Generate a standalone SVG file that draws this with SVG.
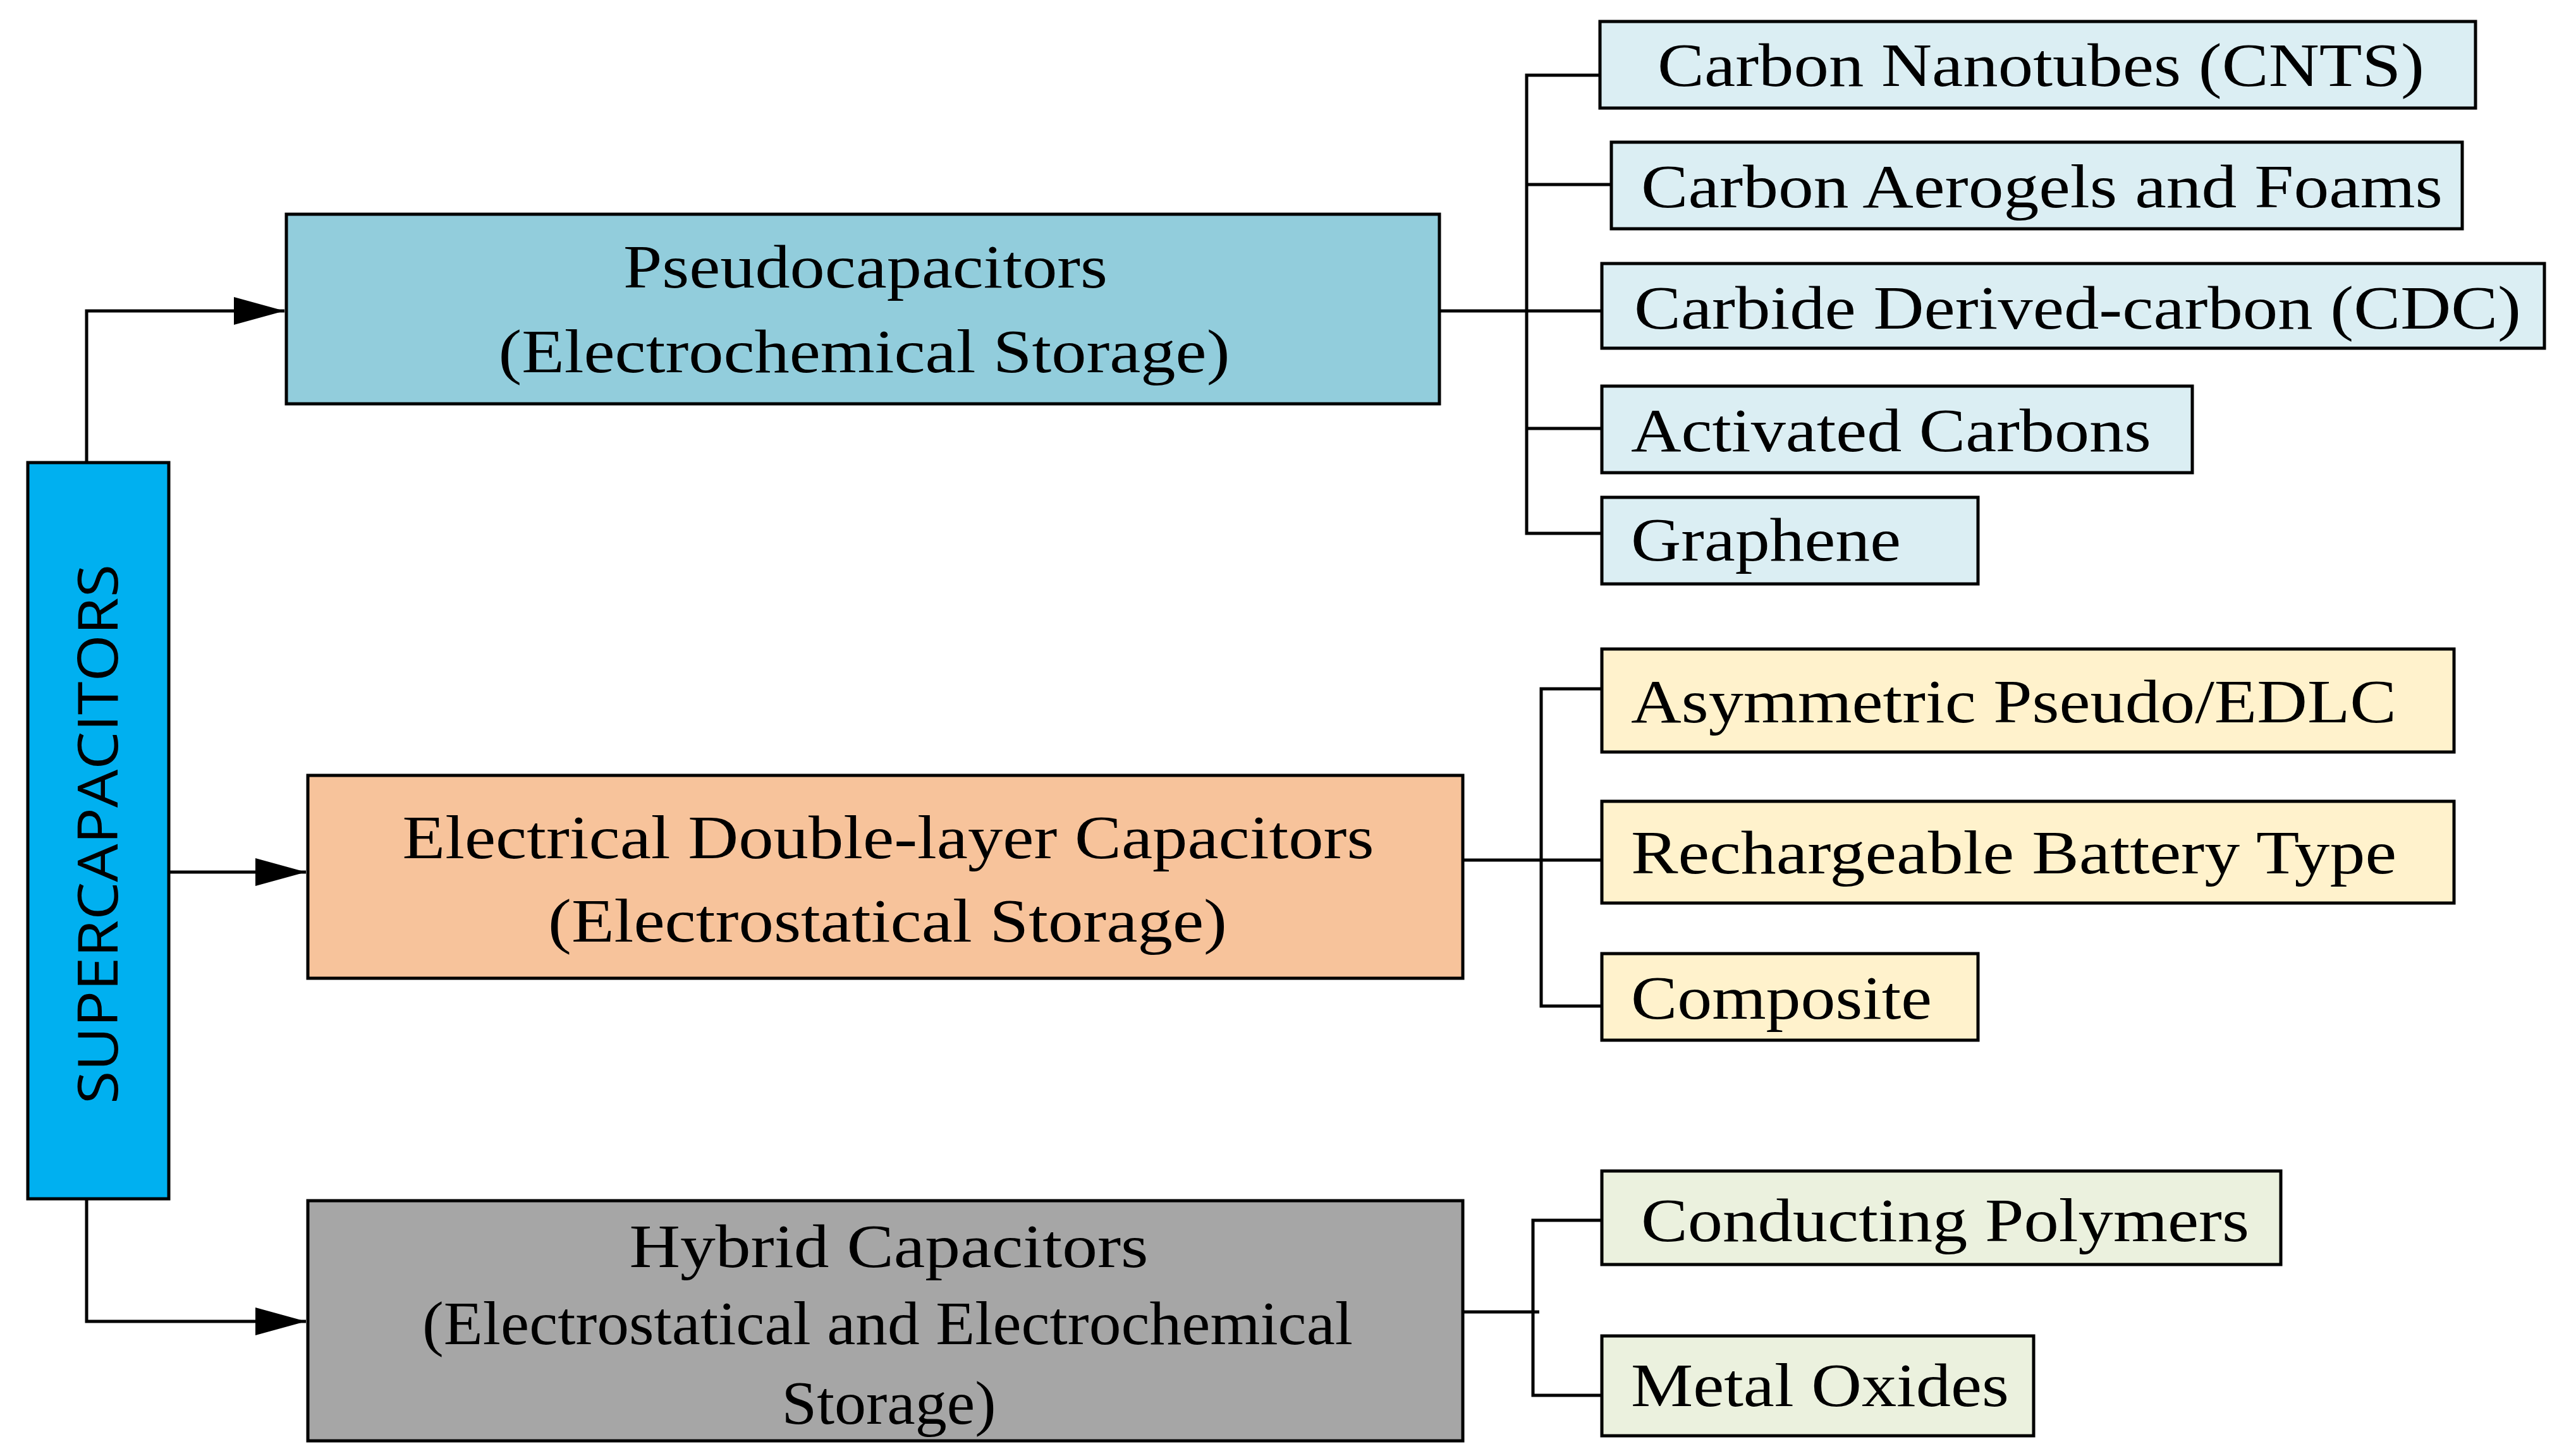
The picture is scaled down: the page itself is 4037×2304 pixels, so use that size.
<svg xmlns="http://www.w3.org/2000/svg" width="4037" height="2304" viewBox="0 0 4037 2304">
<defs>
<style>
rect{stroke:#000;stroke-width:5}
.t{font-family:"Liberation Serif",serif;font-size:98px;fill:#000}
.m{text-anchor:middle}
.c line,.c polyline{stroke:#000;stroke-width:5;fill:none}
</style>
<marker id="a" viewBox="0 0 10 10" refX="10" refY="5" markerWidth="10" markerHeight="10" markerUnits="userSpaceOnUse" orient="auto"><path d="M0,0L10,5L0,10z"/></marker>
</defs>
<rect width="4037" height="2304" fill="#fff" style="stroke:none"/>
<g class="c">
<polyline points="137,732 137,492 450,492" marker-end="url(#arr)"/>
<line x1="267" y1="1380" x2="484" y2="1380"/>
<polyline points="137,1897 137,2091 484,2091"/>
<line x1="2277" y1="492" x2="2534" y2="492"/>
<polyline points="2534,119 2415,119 2415,844 2534,844"/>
<line x1="2415" y1="292" x2="2549" y2="292"/>
<line x1="2415" y1="678" x2="2534" y2="678"/>
<line x1="2314" y1="1361" x2="2534" y2="1361"/>
<polyline points="2534,1090 2438,1090 2438,1592 2534,1592"/>
<line x1="2314" y1="2076" x2="2435" y2="2076"/>
<polyline points="2534,1931 2425,1931 2425,2208 2534,2208"/>
<path d="M370,470L450,492L370,514z M404,1358L484,1380L404,1402z M404,2069L484,2091L404,2113z" fill="#000" stroke="none"/>
</g>
<g id="super"><rect x="44" y="732" width="223" height="1165" fill="#00B0F0"/>
<text transform="translate(186,1320) rotate(-90)" class="m" style="font-family:'Open Sans',sans-serif;font-size:88px" textLength="854" lengthAdjust="spacingAndGlyphs">SUPERCAPACITORS</text></g>
<g id="pseudo"><rect x="453" y="339" width="1824" height="300" fill="#92CDDC"/>
<text class="t m" x="1369" y="455" textLength="766" lengthAdjust="spacingAndGlyphs">Pseudocapacitors</text>
<text class="t m" x="1367" y="589" textLength="1157" lengthAdjust="spacingAndGlyphs">(Electrochemical Storage)</text></g>
<g id="edlc"><rect x="487" y="1227" width="1827" height="321" fill="#F7C39B"/>
<text class="t m" x="1405" y="1358" textLength="1537" lengthAdjust="spacingAndGlyphs">Electrical Double-layer Capacitors</text>
<text class="t m" x="1404" y="1490" textLength="1074" lengthAdjust="spacingAndGlyphs">(Electrostatical Storage)</text></g>
<g id="hybrid"><rect x="487" y="1900" width="1827" height="380" fill="#A6A6A6"/>
<text class="t m" x="1406" y="2005" textLength="821" lengthAdjust="spacingAndGlyphs">Hybrid Capacitors</text>
<text class="t m" x="1404" y="2127" textLength="1472" lengthAdjust="spacingAndGlyphs">(Electrostatical and Electrochemical</text>
<text class="t m" x="1406" y="2253" textLength="339" lengthAdjust="spacingAndGlyphs">Storage)</text></g>
<g id="cnts"><rect x="2531" y="34" width="1385" height="137" fill="#DBEEF3"/><text class="t" x="2622" y="136" textLength="1213" lengthAdjust="spacingAndGlyphs">Carbon Nanotubes (CNTS)</text></g>
<g id="aero"><rect x="2549" y="225" width="1346" height="137" fill="#DBEEF3"/><text class="t" x="2596" y="328" textLength="1268" lengthAdjust="spacingAndGlyphs">Carbon Aerogels and Foams</text></g>
<g id="cdc"><rect x="2534" y="417" width="1491" height="134" fill="#DBEEF3"/><text class="t" x="2585" y="520" textLength="1403" lengthAdjust="spacingAndGlyphs">Carbide Derived-carbon (CDC)</text></g>
<g id="ac"><rect x="2534" y="611" width="934" height="137" fill="#DBEEF3"/><text class="t" x="2580" y="714" textLength="823" lengthAdjust="spacingAndGlyphs">Activated Carbons</text></g>
<g id="gr"><rect x="2534" y="787" width="595" height="137" fill="#DBEEF3"/><text class="t" x="2580" y="887" textLength="427" lengthAdjust="spacingAndGlyphs">Graphene</text></g>
<g id="asym"><rect x="2534" y="1027" width="1348" height="163" fill="#FFF2CC"/><text class="t" x="2580" y="1143" textLength="1211" lengthAdjust="spacingAndGlyphs">Asymmetric Pseudo/EDLC</text></g>
<g id="rb"><rect x="2534" y="1268" width="1348" height="161" fill="#FFF2CC"/><text class="t" x="2580" y="1382" textLength="1211" lengthAdjust="spacingAndGlyphs">Rechargeable Battery Type</text></g>
<g id="comp"><rect x="2534" y="1509" width="595" height="137" fill="#FFF2CC"/><text class="t" x="2580" y="1612" textLength="476" lengthAdjust="spacingAndGlyphs">Composite</text></g>
<g id="cp"><rect x="2534" y="1853" width="1074" height="148" fill="#EBF1DE"/><text class="t" x="2596" y="1964" textLength="962" lengthAdjust="spacingAndGlyphs">Conducting Polymers</text></g>
<g id="mo"><rect x="2534" y="2114" width="683" height="158" fill="#EBF1DE"/><text class="t" x="2580" y="2225" textLength="598" lengthAdjust="spacingAndGlyphs">Metal Oxides</text></g>
</svg>
